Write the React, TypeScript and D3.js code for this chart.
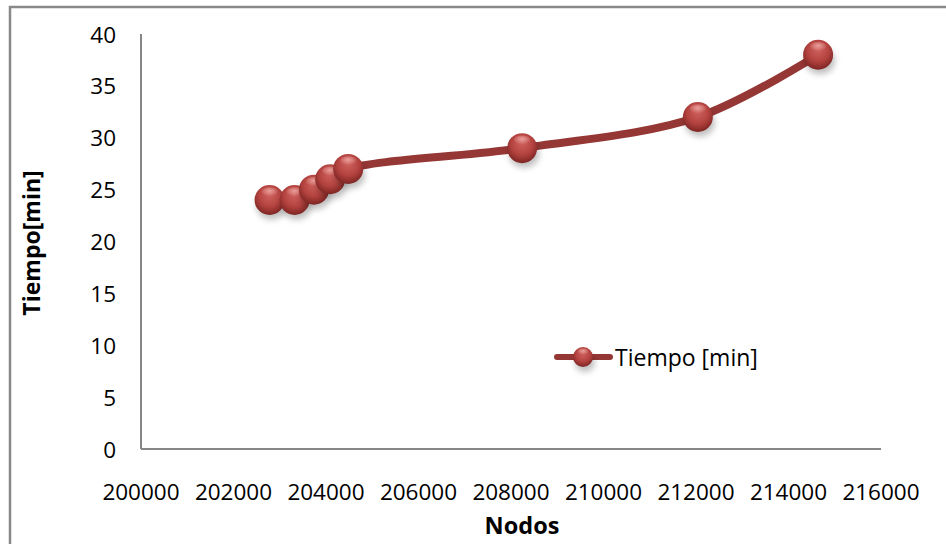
import React from "react";
import * as d3 from "d3";

const nodos = [202780, 203320, 203740, 204090, 204480, 208240, 212040, 214640];
const tiempo = [24, 24, 25, 26, 27, 29, 32, 38];
const xTicks = [200000, 202000, 204000, 206000, 208000, 210000, 212000, 214000, 216000];
const yTicks = [0, 5, 10, 15, 20, 25, 30, 35, 40];
const seriesName = "Tiempo [min]";

const W = 946, H = 544;
const FONT = "'Open Sans', 'DejaVu Sans', sans-serif";

export default function App() {
  const x = d3.scaleLinear().domain([200000, 216000]).range([141, 881]);
  const y = d3.scaleLinear().domain([0, 40]).range([449, 34]);
  const data = nodos.map((n, i) => [n, tiempo[i]] as [number, number]);
  const line = d3.line<[number, number]>()
    .x(d => x(d[0]))
    .y(d => y(d[1]))
    .curve(d3.curveCatmullRom.alpha(0.5));
  const lineColor = "#953735";
  const R = 15;

  const marker = (cx: number, cy: number, r: number, key: string) => (
    <g key={key}>
      <ellipse cx={cx + 2} cy={cy + 6} rx={r} ry={r * 0.9} fill="#000" opacity={0.25} filter="url(#blur)" />
      <circle cx={cx} cy={cy} r={r} fill="url(#ball)" />
      <ellipse cx={cx} cy={cy - r * 0.55} rx={r * 0.55} ry={r * 0.3} fill="url(#hl)" />
    </g>
  );

  return (
    <div style={{ position: "fixed", left: 0, top: 0 }}>
      <svg width={W} height={H} style={{ display: "block", background: "#fff" }}>
        <defs>
          <radialGradient id="ball" cx="50%" cy="40%" r="60%" fx="50%" fy="30%">
            <stop offset="0%" stopColor="#d06360" />
            <stop offset="60%" stopColor="#b4433f" />
            <stop offset="100%" stopColor="#7d2523" />
          </radialGradient>
          <radialGradient id="hl" cx="50%" cy="40%" r="60%">
            <stop offset="0%" stopColor="#f4b0ac" stopOpacity={0.8} />
            <stop offset="100%" stopColor="#f4b0ac" stopOpacity={0} />
          </radialGradient>
          <filter id="blur" x="-50%" y="-50%" width="200%" height="200%">
            <feGaussianBlur stdDeviation={3} />
          </filter>
        </defs>
        {/* outer border */}
        <rect x={10} y={7} width={W + 20} height={H + 20} fill="none" stroke="#898989" strokeWidth={2.5} />
        {/* axes */}
        <line x1={x(200000)} x2={x(200000)} y1={y(40)} y2={y(0)} stroke="#868686" strokeWidth={2} />
        <line x1={x(200000)} x2={x(216000)} y1={y(0)} y2={y(0)} stroke="#868686" strokeWidth={2} />
        {yTicks.map(t => (
          <text key={"y" + t} x={116} y={y(t)} textAnchor="end" dominantBaseline="central"
            fontFamily={FONT} fontSize={22.5} fill="#000">{t}</text>
        ))}
        {xTicks.map(t => (
          <text key={"x" + t} x={x(t)} y={491} textAnchor="middle" dominantBaseline="central"
            fontFamily={FONT} fontSize={22.5} fill="#000">{t}</text>
        ))}
        <text x={522} y={525} textAnchor="middle" dominantBaseline="central"
          fontFamily={FONT} fontSize={23.5} fontWeight="bold" fill="#000">Nodos</text>
        <text transform={`translate(31,243) rotate(-90)`} textAnchor="middle" dominantBaseline="central"
          fontFamily={FONT} fontSize={23} fontWeight="bold" fill="#000">Tiempo[min]</text>
        {/* series */}
        <path d={line(data) || ""} fill="none" stroke={lineColor} strokeWidth={8} strokeLinecap="round" />
        {data.map((d, i) => marker(x(d[0]), y(d[1]), R, "m" + i))}
        {/* legend */}
        <line x1={557} x2={610} y1={357} y2={357} stroke={lineColor} strokeWidth={6} strokeLinecap="round" />
        {marker(583, 357, 10, "leg")}
        <text x={615} y={357} dominantBaseline="central" fontFamily={FONT} fontSize={23} fill="#000">{seriesName}</text>
      </svg>
    </div>
  );
}
